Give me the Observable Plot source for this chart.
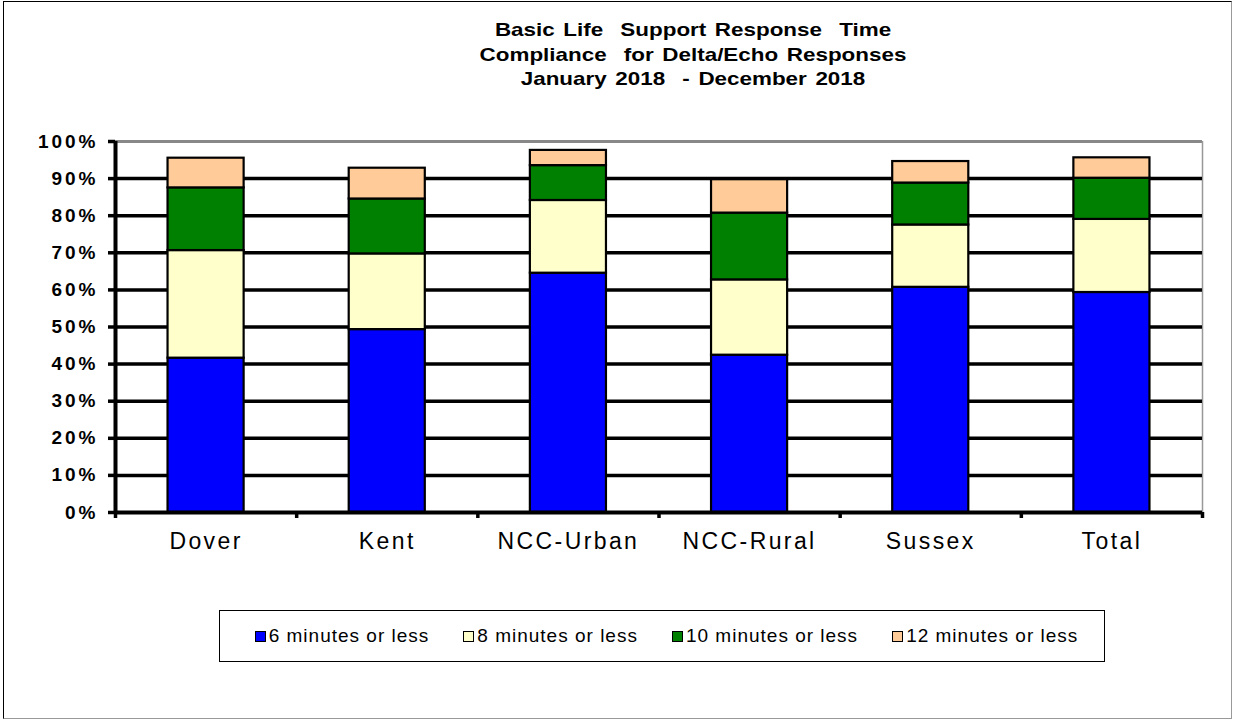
<!DOCTYPE html>
<html>
<head>
<meta charset="utf-8">
<script src="https://cdn.jsdelivr.net/npm/d3@7"></script>
<script src="https://cdn.jsdelivr.net/npm/@observablehq/plot@0.6"></script>
<style>
  html, body { margin: 0; padding: 0; background: #fff; }
  #wrap { position: relative; width: 1236px; height: 723px; overflow: hidden; font-family: "Liberation Sans", Arial, sans-serif; }
  #frame { position: absolute; left: 3px; top: 1px; width: 1229px; height: 718px; border: 1px solid #000; border-right-color: #999; border-bottom-color: #999; box-sizing: border-box; }
  #title { position: absolute; top: 18px; left: 343px; width: 700px; text-align: center; font-weight: bold; font-size: 19px; line-height: 24.5px; word-spacing: 2px; color: #000; transform: scaleX(1.18); transform-origin: 350px 0; white-space: pre; }
  #chart { position: absolute; left: 0; top: 100px; }
  #legend { position: absolute; left: 219px; top: 610px; width: 886px; height: 52px; border: 1px solid #000; box-sizing: border-box; display: flex; align-items: center; justify-content: center; gap: 34px; font-size: 19px; color: #000; padding-left: 9px; letter-spacing: 1px; }
  .item { display: flex; align-items: center; white-space: nowrap; }
  .sw { width: 9px; height: 9px; border: 1.5px solid #000; margin-right: 3px; }
  g[aria-label="y-axis tick label"] text { letter-spacing: 3px; }
  g[aria-label="x-axis tick label"] text { letter-spacing: 2.4px; }
</style>
</head>
<body>
<div id="wrap">
  <div id="frame"></div>
  <div id="title">Basic Life  Support Response  Time
Compliance  for Delta/Echo Responses
January 2018  - December 2018</div>
  <div id="chart"></div>
  <div id="legend"></div>
</div>
<script>
// Categories and series
const categories = ["Dover", "Kent", "NCC-Urban", "NCC-Rural", "Sussex", "Total"];
const seriesNames = ["6 minutes or less", "8 minutes or less", "10 minutes or less", "12 minutes or less"];
const seriesColors = ["#0000FF", "#FFFFCC", "#008000", "#FFCC99"];
// Cumulative compliance (%) per category
const within6 = [41.6, 49.3, 64.5, 42.4, 60.7, 59.3];
const within8 = [70.6, 69.7, 84.1, 62.7, 77.5, 79.0];
const within10 = [87.5, 84.5, 93.5, 80.7, 88.8, 90.1];
const within12 = [95.5, 92.8, 97.6, 89.7, 94.6, 95.6];
const yTicks = [0, 0.1, 0.2, 0.3, 0.4, 0.5, 0.6, 0.7, 0.8, 0.9, 1.0];

const cumulative = [within6, within8, within10, within12];
const rows = [];
categories.forEach((c, i) => {
  cumulative.forEach((arr, s) => {
    rows.push({
      category: c,
      idx: i,
      series: seriesNames[s],
      lo: s === 0 ? 0 : cumulative[s - 1][i] / 100,
      hi: arr[i] / 100
    });
  });
});

const half = 0.21;
const plot = Plot.plot({
  width: 1236,
  height: 470,
  marginLeft: 115,
  marginRight: 34,
  marginTop: 41,
  marginBottom: 58,
  x: { type: "linear", domain: [0, categories.length], axis: null },
  y: { domain: [0, 1], axis: null },
  color: { domain: seriesNames, range: seriesColors },
  style: { fontFamily: "Liberation Sans, Arial, sans-serif", color: "#000", background: "transparent", overflow: "visible" },
  marks: [
    Plot.ruleY([1], { stroke: "#888", strokeWidth: 3 }),
    Plot.ruleX([categories.length], { y1: 0, y2: 1, stroke: "#999", strokeWidth: 1.5 }),
    Plot.ruleY(yTicks.slice(1, -1), { stroke: "#000", strokeWidth: 3.5 }),
    Plot.rect(rows, {
      x1: d => d.idx + 0.5 - half,
      x2: d => d.idx + 0.5 + half,
      y1: "lo",
      y2: "hi",
      fill: "series",
      stroke: "#000",
      strokeWidth: 2.2
    }),
    Plot.ruleY([0], { stroke: "#000", strokeWidth: 4 }),
    Plot.ruleX([0], { y1: 0, y2: 1, stroke: "#000", strokeWidth: 4 }),
    Plot.axisY({
      ticks: yTicks,
      tickSize: 7,
      tickPadding: 10,
      strokeWidth: 3.5,
      tickFormat: d3.format(".0%"),
      fontSize: 19,
      fontWeight: "bold",
      label: null
    }),
    Plot.axisX({
      ticks: d3.range(categories.length + 1),
      tickSize: 6,
      strokeWidth: 3.5,
      tickFormat: () => "",
      label: null
    }),
    Plot.axisX({
      ticks: categories.map((c, i) => i + 0.5),
      tickSize: 0,
      tickPadding: 20,
      tickFormat: v => categories[Math.round(v - 0.5)],
      fontSize: 23,
      label: null
    })
  ]
});
document.getElementById("chart").appendChild(plot);

const legend = document.getElementById("legend");
seriesNames.forEach((name, i) => {
  const item = document.createElement("div");
  item.className = "item";
  const sw = document.createElement("span");
  sw.className = "sw";
  sw.style.background = seriesColors[i];
  const t = document.createElement("span");
  t.textContent = name;
  item.appendChild(sw);
  item.appendChild(t);
  legend.appendChild(item);
});
</script>
</body>
</html>
